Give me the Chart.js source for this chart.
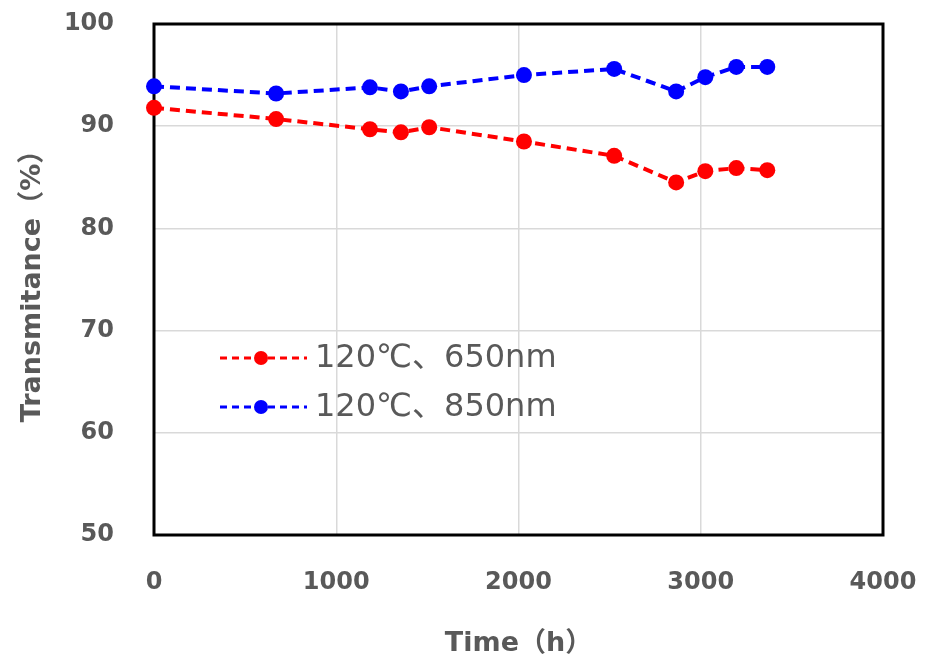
<!DOCTYPE html>
<html>
<head>
<meta charset="utf-8">
<script src="https://cdn.jsdelivr.net/npm/chart.js@4/dist/chart.umd.min.js"></script>
<style>
  html, body { margin: 0; padding: 0; background: #fff; }
  #wrap { width: 925px; height: 659px; }
</style>
</head>
<body>
<div id="wrap"><canvas id="grafico"></canvas></div>
<script>
// data
const timeH = [0, 670, 1185, 1355, 1510, 2030, 2525, 2865, 3025, 3195, 3365];
const trans650 = [91.8, 90.7, 89.7, 89.4, 89.9, 88.5, 87.1, 84.5, 85.6, 85.9, 85.7];
const trans850 = [93.9, 93.2, 93.8, 93.4, 93.9, 95.0, 95.6, 93.4, 94.8, 95.8, 95.8];
const seriesLabels = ['120℃、650nm', '120℃、850nm'];
const seriesColors = ['#ff0000', '#0000ff'];
const xTitle = 'Time（h）';
const yTitle = 'Transmitance（%）';

const gray = '#595959';
const fam = "'DejaVu Sans', 'Noto Sans CJK SC', sans-serif";
const tickFont = { family: fam, size: 24, weight: 'bold' };
const titleFont = { family: fam, size: 27, weight: 'bold', lineHeight: 1.1 };

const toPoints = (ys) => timeH.map((t, i) => ({ x: t, y: ys[i] }));

const makeSet = (label, ys, color) => ({
    label: label,
    data: toPoints(ys),
    showLine: true,
    borderColor: color,
    backgroundColor: color,
    borderWidth: 4,
    borderDash: [10, 6],
    pointRadius: 8,
    pointHoverRadius: 8,
    pointBorderWidth: 0,
    clip: false
});

// black frame round the plot area
const framePlugin = {
    id: 'frame',
    beforeDatasetsDraw(chart) {
        const { ctx, chartArea: a } = chart;
        ctx.save();
        ctx.strokeStyle = '#000';
        ctx.lineWidth = 3;
        ctx.strokeRect(a.left, a.top, a.right - a.left, a.bottom - a.top);
        ctx.restore();
    }
};

// legend drawn inside the plot, like the original
const legendPlugin = {
    id: 'insideLegend',
    afterDraw(chart) {
        const ctx = chart.ctx;
        const rows = [358, 407];
        chart.data.datasets.forEach((ds, i) => {
            const y = rows[i];
            ctx.save();
            ctx.strokeStyle = ds.borderColor;
            ctx.lineWidth = 3;
            ctx.setLineDash([7, 5]);
            ctx.beginPath();
            ctx.moveTo(220, y);
            ctx.lineTo(307, y);
            ctx.stroke();
            ctx.setLineDash([]);
            ctx.fillStyle = ds.backgroundColor;
            ctx.beginPath();
            ctx.arc(261, y, 7, 0, Math.PI * 2);
            ctx.fill();
            ctx.fillStyle = gray;
            ctx.font = "32px " + fam;
            ctx.textBaseline = 'middle';
            ctx.fillText(ds.label, 315, y + 1);
            ctx.restore();
        });
    }
};

const edgeGrid = (ctx) => (ctx.index === 0 || ctx.index === 5 ? 'rgba(0,0,0,0)' : '#d9d9d9');

new Chart(document.getElementById('grafico'), {
    type: 'scatter',
    data: {
        datasets: [
            makeSet(seriesLabels[0], trans650, seriesColors[0]),
            makeSet(seriesLabels[1], trans850, seriesColors[1])
        ]
    },
    options: {
        responsive: true,
        maintainAspectRatio: false,
        animation: false,
        layout: { padding: { left: 0, top: 24, right: 42, bottom: 0 } },
        plugins: {
            legend: { display: false },
            tooltip: { enabled: false }
        },
        scales: {
            x: {
                type: 'linear',
                min: 0,
                max: 4000,
                ticks: { stepSize: 1000, color: gray, font: tickFont, padding: 33, callback: (v) => String(v) },
                grid: { color: edgeGrid, lineWidth: 1.5, drawTicks: false },
                border: { display: false },
                title: { display: true, text: xTitle, color: gray, font: titleFont, padding: { top: 0, bottom: 0 } },
                afterFit(scale) {
                    scale.height = 124;
                    scale.paddingLeft = 0;
                    scale.paddingRight = 0;
                }
            },
            y: {
                min: 50,
                max: 100,
                ticks: { stepSize: 10, color: gray, font: tickFont, padding: 40 },
                grid: { color: edgeGrid, lineWidth: 1.5, drawTicks: false },
                border: { display: false },
                title: { display: true, text: yTitle, color: gray, font: titleFont, padding: { top: 18, bottom: 0 } },
                afterFit(scale) {
                    scale.width = 154;
                    scale.paddingTop = 0;
                    scale.paddingBottom = 0;
                }
            }
        }
    },
    plugins: [framePlugin, legendPlugin]
});
</script>
</body>
</html>
